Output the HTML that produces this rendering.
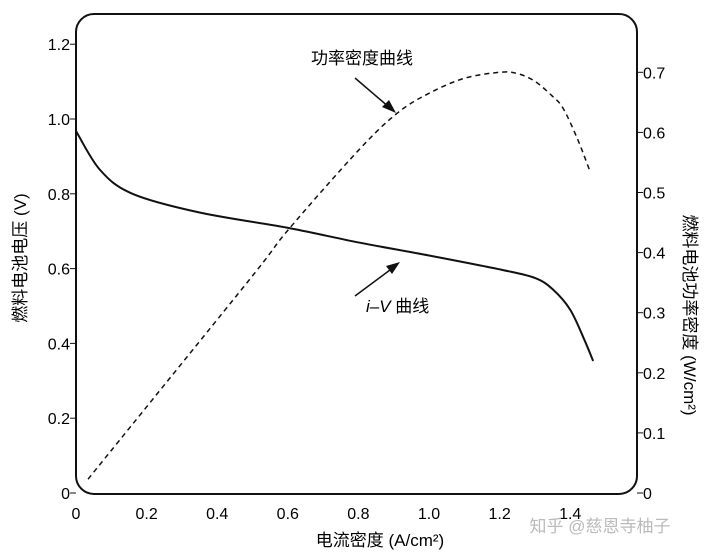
<!DOCTYPE html>
<html><head><meta charset="utf-8"><style>
body{margin:0;background:#fff;}
svg{display:block;font-family:"Liberation Sans","Noto Sans CJK SC",sans-serif;}
</style></head><body>
<svg id="chart" width="713" height="560" viewBox="0 0 713 560" xmlns="http://www.w3.org/2000/svg">
<rect x="76" y="14" width="561" height="480" rx="18" fill="none" stroke="#111" stroke-width="2"/>
<g id="ticks"></g>
<path id="iv" fill="none" stroke="#111" stroke-width="2"/>
<path id="pw" fill="none" stroke="#111" stroke-width="1.5" stroke-dasharray="5,4"/>
<text x="362" y="64" font-size="17" text-anchor="middle">功率密度曲线</text>
<line x1="355" y1="78" x2="390" y2="108" stroke="#111" stroke-width="1.5"/>
<polygon points="396,113 382,107 389,100" fill="#111"/>
<line x1="355" y1="296" x2="394" y2="267" stroke="#111" stroke-width="1.5"/>
<polygon points="400,262 386,266 392,274" fill="#111"/>
<text x="366" y="312" font-size="17"><tspan font-style="italic">i–V</tspan> 曲线</text>
<text transform="translate(26,258) rotate(-90)" font-size="17" text-anchor="middle">燃料电池电压 (V)</text>
<text transform="translate(684,315) rotate(90)" font-size="17" text-anchor="middle">燃料电池功率密度 (W/cm²)</text>
<text x="380" y="546" font-size="17" text-anchor="middle">电流密度 (A/cm²)</text>
<text x="600" y="532" font-size="17" fill="#bbb" text-anchor="middle">知乎 @慈恩寺柚子</text>
</svg>
<script>
const xTicks=[0,0.2,0.4,0.6,0.8,1.0,1.2,1.4];
const xTickLabels=["0","0.2","0.4","0.6","0.8","1.0","1.2","1.4"];
const yTicks=[0,0.2,0.4,0.6,0.8,1.0,1.2];
const yTickLabels=["0","0.2","0.4","0.6","0.8","1.0","1.2"];
const y2Ticks=[0,0.1,0.2,0.3,0.4,0.5,0.6,0.7];
const y2TickLabels=["0","0.1","0.2","0.3","0.4","0.5","0.6","0.7"];
const ivCurrent=[0,0.068,0.16,0.35,0.606,0.8,1.0,1.21,1.3,1.35,1.4,1.44,1.465];
const ivVoltage=[0.968,0.864,0.80,0.75,0.708,0.67,0.635,0.596,0.575,0.545,0.49,0.41,0.353];
const pwCurrent=[0.034,0.49,0.6,0.8,0.91,1.0,1.1,1.2,1.25,1.3,1.35,1.38,1.42,1.455];
const pwPower=[0.023,0.354,0.437,0.57,0.632,0.665,0.69,0.70,0.698,0.685,0.66,0.64,0.59,0.537];
const X=v=>76+353*v, Y=v=>493-374*v, Y2=v=>493-601*v;
const NS="http://www.w3.org/2000/svg";
const g=document.getElementById('ticks');
function mk(tag,attrs,txt){const e=document.createElementNS(NS,tag);for(const k in attrs)e.setAttribute(k,attrs[k]);if(txt!==undefined)e.textContent=txt;g.appendChild(e);return e;}
xTicks.forEach((v,i)=>{
 const t=mk('text',{x:X(v),y:519,'font-size':16,'text-anchor':'middle'},xTickLabels[i]);
 
 
});
yTicks.forEach((v,i)=>{
 const t=mk('text',{x:70,y:Y(v)+6,'font-size':16,'text-anchor':'end'},yTickLabels[i]);
 
 
 const l=mk('line',{x1:70,x2:76,y1:Y(v),y2:Y(v),stroke:'#111'});
 
 
});
y2Ticks.forEach((v,i)=>{
 const t=mk('text',{x:643,y:Y2(v)+6,'font-size':16},y2TickLabels[i]);
 
 
 const l=mk('line',{x1:637,x2:643,y1:Y2(v),y2:Y2(v),stroke:'#111'});
 
 
});
function smooth(xs,ys){const p=xs.map((x,i)=>[x,ys[i]]);let d='M'+p[0][0]+','+p[0][1];
 for(let i=0;i<p.length-1;i++){const p0=p[i-1]||p[i],p1=p[i],p2=p[i+1],p3=p[i+2]||p2;
 d+=' C'+(p1[0]+(p2[0]-p0[0])/6)+','+(p1[1]+(p2[1]-p0[1])/6)+' '+(p2[0]-(p3[0]-p1[0])/6)+','+(p2[1]-(p3[1]-p1[1])/6)+' '+p2[0]+','+p2[1];}return d;}
document.getElementById('iv').setAttribute('d',smooth(ivCurrent.map(X),ivVoltage.map(Y)));
document.getElementById('pw').setAttribute('d',smooth(pwCurrent.map(X),pwPower.map(Y2)));
</script>
</body></html>
